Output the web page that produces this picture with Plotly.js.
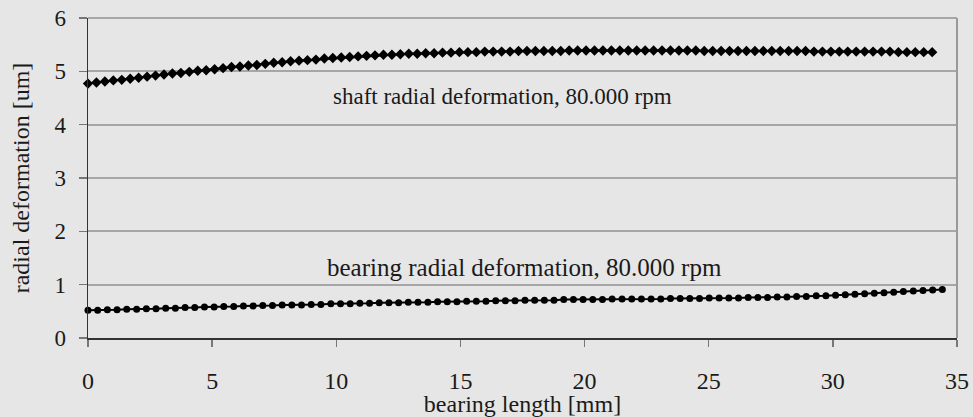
<!DOCTYPE html>
<html>
<head>
<meta charset="utf-8">
<script src="https://cdn.plot.ly/plotly-3.0.1.min.js"></script>
<style>html,body{margin:0;padding:0;background:#e6e6e6;}</style>
</head>
<body>
<div id="chart" style="width:973px;height:417px;"></div>
<script>
// bearing length [mm] for the shaft series
const shaftX = [0,0.34,0.68,1.02,1.36,1.7,2.04,2.38,2.72,3.06,3.4,3.74,4.08,4.42,4.76,5.1,5.44,5.78,6.12,6.46,6.8,7.14,7.48,7.82,8.16,8.5,8.84,9.18,9.52,9.86,10.2,10.54,10.88,11.22,11.56,11.9,12.24,12.58,12.92,13.26,13.6,13.94,14.28,14.62,14.96,15.3,15.64,15.98,16.32,16.66,17,17.34,17.68,18.02,18.36,18.7,19.04,19.38,19.72,20.06,20.4,20.74,21.08,21.42,21.76,22.1,22.44,22.78,23.12,23.46,23.8,24.14,24.48,24.82,25.16,25.5,25.84,26.18,26.52,26.86,27.2,27.54,27.88,28.22,28.56,28.9,29.24,29.58,29.92,30.26,30.6,30.94,31.28,31.62,31.96,32.3,32.64,32.98,33.32,33.66,34];
// shaft radial deformation [um]
const shaftY = [4.77,4.79,4.81,4.83,4.84,4.86,4.88,4.90,4.92,4.94,4.96,4.97,4.99,5.01,5.02,5.04,5.06,5.08,5.09,5.11,5.12,5.14,5.16,5.17,5.19,5.20,5.21,5.22,5.24,5.25,5.26,5.27,5.28,5.29,5.30,5.31,5.31,5.32,5.33,5.33,5.34,5.34,5.35,5.35,5.36,5.36,5.36,5.37,5.37,5.37,5.37,5.38,5.38,5.38,5.38,5.38,5.38,5.39,5.39,5.39,5.39,5.39,5.39,5.39,5.39,5.39,5.39,5.39,5.39,5.39,5.39,5.39,5.39,5.38,5.38,5.38,5.38,5.38,5.38,5.38,5.38,5.38,5.38,5.38,5.38,5.38,5.37,5.37,5.37,5.37,5.37,5.37,5.37,5.37,5.37,5.37,5.36,5.36,5.36,5.36,5.36];
// bearing length [mm] for the bearing series
const bearingX = [0,0.39,0.78,1.17,1.56,1.96,2.35,2.74,3.13,3.52,3.91,4.30,4.69,5.08,5.47,5.87,6.26,6.65,7.04,7.43,7.82,8.21,8.60,8.99,9.38,9.78,10.17,10.56,10.95,11.34,11.73,12.12,12.51,12.90,13.29,13.69,14.08,14.47,14.86,15.25,15.64,16.03,16.42,16.81,17.20,17.60,17.99,18.38,18.77,19.16,19.55,19.94,20.33,20.72,21.11,21.51,21.90,22.29,22.68,23.07,23.46,23.85,24.24,24.63,25.02,25.42,25.81,26.20,26.59,26.98,27.37,27.76,28.15,28.54,28.93,29.33,29.72,30.11,30.50,30.89,31.28,31.67,32.06,32.45,32.84,33.24,33.63,34.02,34.41];
// bearing radial deformation [um]
const bearingY = [0.52,0.52,0.53,0.53,0.54,0.54,0.55,0.55,0.56,0.56,0.57,0.57,0.58,0.58,0.59,0.59,0.60,0.60,0.61,0.61,0.62,0.62,0.62,0.63,0.63,0.64,0.64,0.64,0.65,0.65,0.66,0.66,0.66,0.67,0.67,0.67,0.68,0.68,0.68,0.69,0.69,0.69,0.70,0.70,0.70,0.71,0.71,0.71,0.71,0.72,0.72,0.72,0.72,0.72,0.73,0.73,0.73,0.73,0.73,0.73,0.74,0.74,0.74,0.74,0.75,0.75,0.75,0.75,0.76,0.76,0.76,0.77,0.77,0.78,0.78,0.79,0.79,0.80,0.81,0.82,0.83,0.84,0.85,0.86,0.87,0.88,0.89,0.90,0.91];

const xTicks = [0,5,10,15,20,25,30,35];
const yTicks = [0,1,2,3,4,5,6];
const shaftLabel = 'shaft radial deformation, 80.000 rpm';
const bearingLabel = 'bearing radial deformation, 80.000 rpm';

const font = 'Liberation Serif';
const ink = '#1a1a1a';

const traces = [
  {x: shaftX, y: shaftY, type: 'scatter', mode: 'lines+markers', cliponaxis: false,
   line: {color: '#000', width: 2}, marker: {symbol: 'diamond', size: 8, color: '#000'}, hoverinfo: 'skip'},
  {x: bearingX, y: bearingY, type: 'scatter', mode: 'lines+markers', cliponaxis: false,
   line: {color: '#000', width: 2}, marker: {symbol: 'circle', size: 7, color: '#000'}, hoverinfo: 'skip'}
];

const layout = {
  width: 973, height: 417,
  paper_bgcolor: '#e6e6e6', plot_bgcolor: '#e6e6e6',
  margin: {l: 88, r: 16, t: 18, b: 79},
  showlegend: false,
  font: {family: font, color: ink, size: 22},
  xaxis: {
    range: [0, 35], tickvals: xTicks, ticktext: xTicks.map(String),
    showgrid: false, zeroline: false,
    showline: true, linecolor: '#333', linewidth: 1.5,
    ticks: 'outside', ticklen: 7, tickcolor: '#777', tickwidth: 1.5,
    ticklabelstandoff: 14,
    tickfont: {family: font, size: 24, color: ink},
    title: {text: 'bearing length [mm]', font: {family: font, size: 24, color: ink}, standoff: 12}
  },
  yaxis: {
    range: [0, 6], tickvals: yTicks, ticktext: yTicks.map(String),
    showgrid: true, gridcolor: '#a6a6a6', gridwidth: 2, zeroline: false,
    showline: true, linecolor: '#333', linewidth: 1.5,
    ticks: 'outside', ticklen: 8, tickcolor: '#777', tickwidth: 1.5,
    ticklabelstandoff: 8,
    tickfont: {family: font, size: 23, color: ink},
    title: {text: 'radial deformation [um]', font: {family: font, size: 24, color: ink}, standoff: 18}
  },
  shapes: [
    {type: 'line', xref: 'paper', yref: 'paper', x0: 1, x1: 1, y0: 0, y1: 1, line: {color: '#999', width: 2}},
    {type: 'line', xref: 'paper', yref: 'paper', x0: 0, x1: 1, y0: 1, y1: 1, line: {color: '#a6a6a6', width: 2}}
  ],
  annotations: [
    {x: 16.7, y: 4.53, xref: 'x', yref: 'y', text: shaftLabel, showarrow: false,
     font: {family: font, size: 23, color: ink}},
    {x: 17.6, y: 1.32, xref: 'x', yref: 'y', text: bearingLabel, showarrow: false,
     font: {family: font, size: 25, color: ink}}
  ]
};

Plotly.newPlot('chart', traces, layout, {displayModeBar: false, staticPlot: true});
</script>
</body>
</html>
